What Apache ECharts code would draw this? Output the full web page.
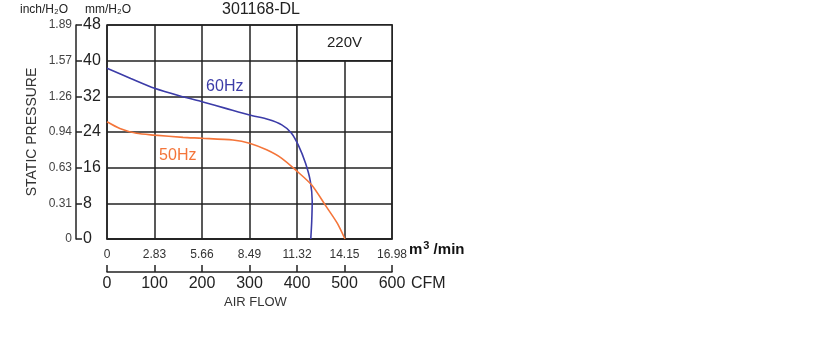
<!DOCTYPE html>
<html>
<head>
<meta charset="utf-8">
<script src="https://cdn.jsdelivr.net/npm/echarts@6/dist/echarts.min.js"></script>
<style>
  html, body { margin: 0; padding: 0; background: #fff; }
  #chart { width: 817px; height: 354px; }
</style>
</head>
<body>
<div id="chart"></div>
<script>
// air flow in CFM, pressure in mm H2O
var cfm60 = [0, 50, 100, 160, 200, 250, 300, 340, 368, 388, 403, 418, 428, 432, 431, 429]
var pressure60 = [38.3, 36.0, 33.8, 31.9, 30.8, 29.3, 27.8, 26.8, 25.6, 23.8, 21.0, 17.0, 13.0, 8.5, 4.0, 0]
var cfm50 = [0, 27, 62, 100, 160, 200, 265, 300, 336, 368, 399, 431, 462, 485, 501]
var pressure50 = [26.3, 24.8, 23.7, 23.3, 22.8, 22.6, 22.2, 21.5, 20.0, 18.1, 15.3, 12.1, 7.2, 3.5, 0]

var m3Labels = ['0', '2.83', '5.66', '8.49', '11.32', '14.15', '16.98']
var inchLabels = ['0', '0.31', '0.63', '0.94', '1.26', '1.57', '1.89']

var font = '"Liberation Sans", Arial, sans-serif'
var lineColor = '#222'
var blue = '#3c3ca8'
var orange = '#f4753a'

function pairs (xs, ys) {
  return xs.map(function (x, i) { return [x, ys[i]] })
}

var chart = echarts.init(document.getElementById('chart'))
var option = {
  animation: false,
  textStyle: { fontFamily: font },
  grid: {
    left: 107, right: 425, top: 25, bottom: 115,
    show: true, borderColor: lineColor, borderWidth: 1.5
  },
  xAxis: [
    {
      type: 'value', min: 0, max: 600, interval: 100, position: 'bottom',
      axisLine: { show: true, lineStyle: { color: lineColor, width: 1.5 } },
      axisTick: { show: false },
      splitLine: { show: true, lineStyle: { color: lineColor, width: 1.5 } },
      axisLabel: {
        fontSize: 12, margin: 10, color: '#333',
        formatter: function (v) { return m3Labels[Math.round(v / 100)] }
      }
    },
    {
      type: 'value', min: 0, max: 600, interval: 100, position: 'bottom', offset: 33,
      axisLine: { show: true, onZero: false, lineStyle: { color: lineColor, width: 1.5 } },
      axisTick: { show: true, inside: true, length: 7, lineStyle: { color: lineColor, width: 1.5 } },
      splitLine: { show: false },
      axisLabel: { fontSize: 16, margin: 4, color: '#222' }
    }
  ],
  yAxis: [
    {
      type: 'value', min: 0, max: 48, interval: 8, position: 'left', offset: 31,
      axisLine: { show: true, onZero: false, lineStyle: { color: lineColor, width: 1.5 } },
      axisTick: { show: true, inside: true, length: 6, lineStyle: { color: lineColor, width: 1.5 } },
      splitLine: { show: true, lineStyle: { color: lineColor, width: 1.5 } },
      axisLabel: { inside: true, margin: 7, fontSize: 16, color: '#222' }
    },
    {
      type: 'value', min: 0, max: 48, interval: 8, position: 'left', offset: 31,
      axisLine: { show: false },
      axisTick: { show: false },
      splitLine: { show: false },
      axisLabel: {
        margin: 4, fontSize: 12, color: '#444',
        formatter: function (v) { return inchLabels[Math.round(v / 8)] }
      },
      name: 'STATIC PRESSURE',
      nameLocation: 'middle',
      nameRotate: 90,
      nameGap: 37,
      nameTextStyle: { fontSize: 14, color: '#333' }
    }
  ],
  graphic: [
    { type: 'text', left: 222, top: 2, style: { text: '301168-DL', fill: '#222', font: '16px ' + font } },
    { type: 'text', left: 20, top: 4, style: { text: 'inch/H₂O', fill: '#222', font: '12px ' + font } },
    { type: 'text', left: 85, top: 4, style: { text: 'mm/H₂O', fill: '#222', font: '12px ' + font } },
    {
      type: 'text', left: 409, top: 240,
      style: {
        text: '{b|m}{s|3}{b| /min}',
        rich: {
          b: { font: 'bold 15px ' + font, fill: '#111', verticalAlign: 'bottom' },
          s: { font: 'bold 11px ' + font, fill: '#111', verticalAlign: 'top', padding: [0, 0, 6, 1] }
        }
      }
    },
    { type: 'text', left: 411, top: 276, style: { text: 'CFM', fill: '#222', font: '16px ' + font } },
    { type: 'text', left: 224, top: 296, style: { text: 'AIR FLOW', fill: '#333', font: '13px ' + font } }
  ],
  series: [
    {
      name: '60Hz', type: 'line', smooth: 0.25, symbol: 'none',
      xAxisIndex: 0, yAxisIndex: 0,
      lineStyle: { color: blue, width: 1.6 },
      data: pairs(cfm60, pressure60),
      markPoint: {
        symbol: 'circle', symbolSize: 1, itemStyle: { color: 'rgba(0,0,0,0)' },
        label: { show: true, position: 'inside', formatter: '60Hz', color: blue, fontSize: 16 },
        data: [{ coord: [248, 34.1] }]
      },
      markArea: {
        silent: true,
        itemStyle: { color: '#fff', borderColor: lineColor, borderWidth: 1.5 },
        label: { show: true, position: 'inside', formatter: '220V', color: '#222', fontSize: 15 },
        data: [[{ coord: [400, 40] }, { coord: [600, 48] }]]
      }
    },
    {
      name: '50Hz', type: 'line', smooth: 0.25, symbol: 'none',
      xAxisIndex: 0, yAxisIndex: 0,
      lineStyle: { color: orange, width: 1.6 },
      data: pairs(cfm50, pressure50),
      markPoint: {
        symbol: 'circle', symbolSize: 1, itemStyle: { color: 'rgba(0,0,0,0)' },
        label: { show: true, position: 'inside', formatter: '50Hz', color: orange, fontSize: 16 },
        data: [{ coord: [149, 18.8] }]
      }
    }
  ]
}
chart.setOption(option)
</script>
</body>
</html>
